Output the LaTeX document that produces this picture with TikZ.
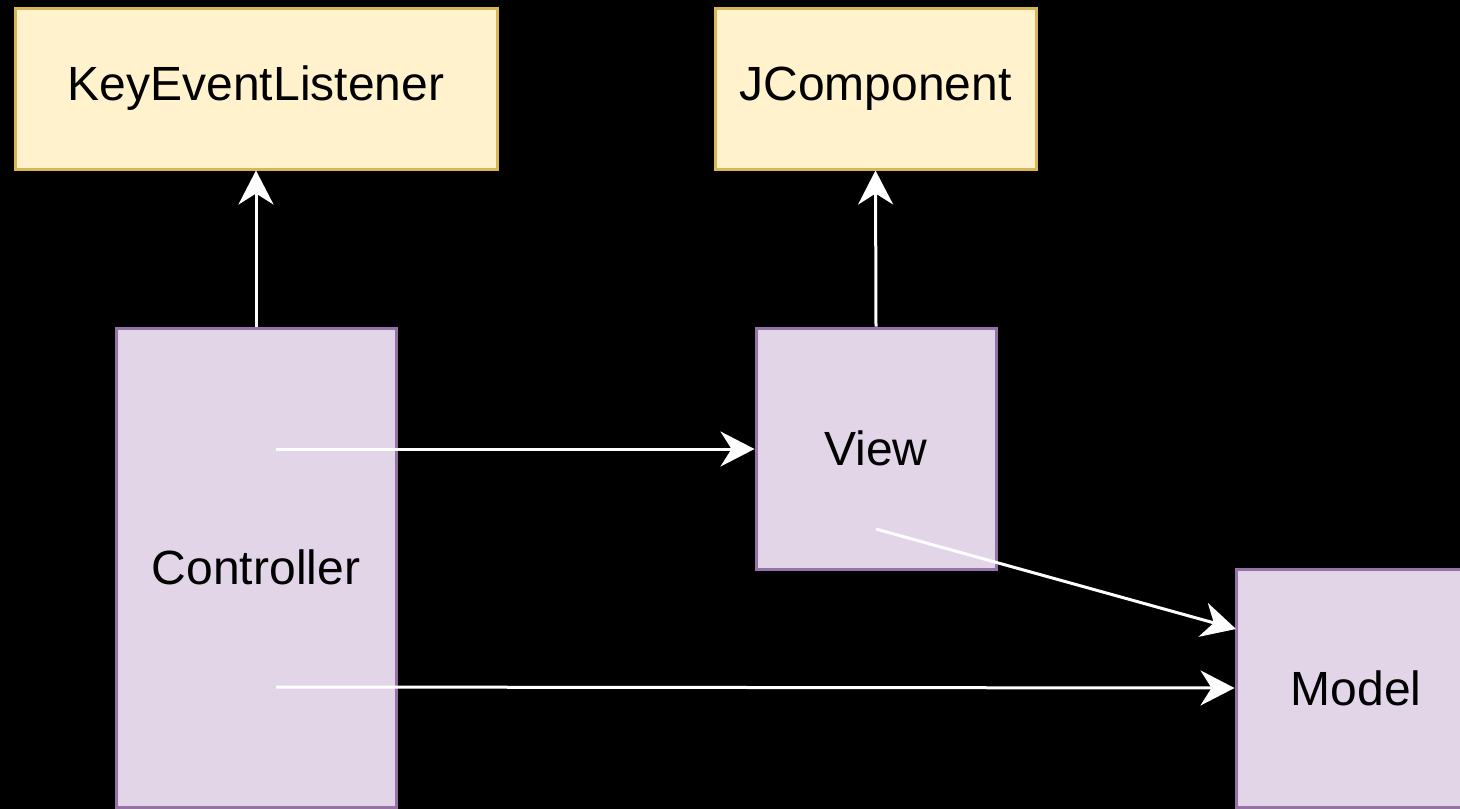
\documentclass[tikz,border=0pt]{standalone}
\usepackage{fontspec}
\setmainfont{Liberation Sans}
\usetikzlibrary{arrows.meta}
\definecolor{ifacefill}{HTML}{FFF2CC}
\definecolor{ifaceline}{HTML}{D6B656}
\definecolor{classfill}{HTML}{E1D5E7}
\definecolor{classline}{HTML}{9673A6}
\begin{document}
\begin{tikzpicture}[x=1pt,y=-1pt,
  ifacebox/.style={draw=ifaceline, fill=ifacefill, line width=3pt, inner sep=0pt,
    minimum height=161pt, font=\fontsize{48}{56}\selectfont},
  classbox/.style={draw=classline, fill=classfill, line width=3pt, inner sep=0pt,
    font=\fontsize{48}{56}\selectfont},
  link/.style={draw=white, line width=3pt,
    -{Stealth[length=34pt, width=35pt, inset=11pt, fill=white]}}]
\clip (0,0) rectangle (1460,809);
\fill[black] (0,0) rectangle (1460,809);
% interfaces
\node[ifacebox, minimum width=482pt] (kel) at (256,88.5) {KeyEventListener};
\node[ifacebox, minimum width=321pt] (jcomp) at (875.5,88.5) {JComponent};
% classes
\node[classbox, minimum width=280pt, minimum height=479pt] (ctrl) at (256,567.5) {Controller};
\node[classbox, minimum width=240pt, minimum height=241pt] (view) at (876,448.5) {View};
\node[classbox, minimum width=240pt, minimum height=238pt] (model) at (1356,688) {Model};
% free ends inside the boxes
\coordinate (ctrlA) at (276,449);
\coordinate (ctrlB) at (276,687);
\coordinate (viewA) at (876,529);
\coordinate (modelA) at (1236,629);
% connectors
\draw[link] (ctrl.north) -- (kel.south);
\draw[link] (view.north) -- (jcomp.south);
\draw[link] (ctrlA) -- (view.west |- ctrlA);
\draw[link] (viewA) -- (modelA);
\draw[link] (ctrlB) -- (model.west);
\end{tikzpicture}
\end{document}
